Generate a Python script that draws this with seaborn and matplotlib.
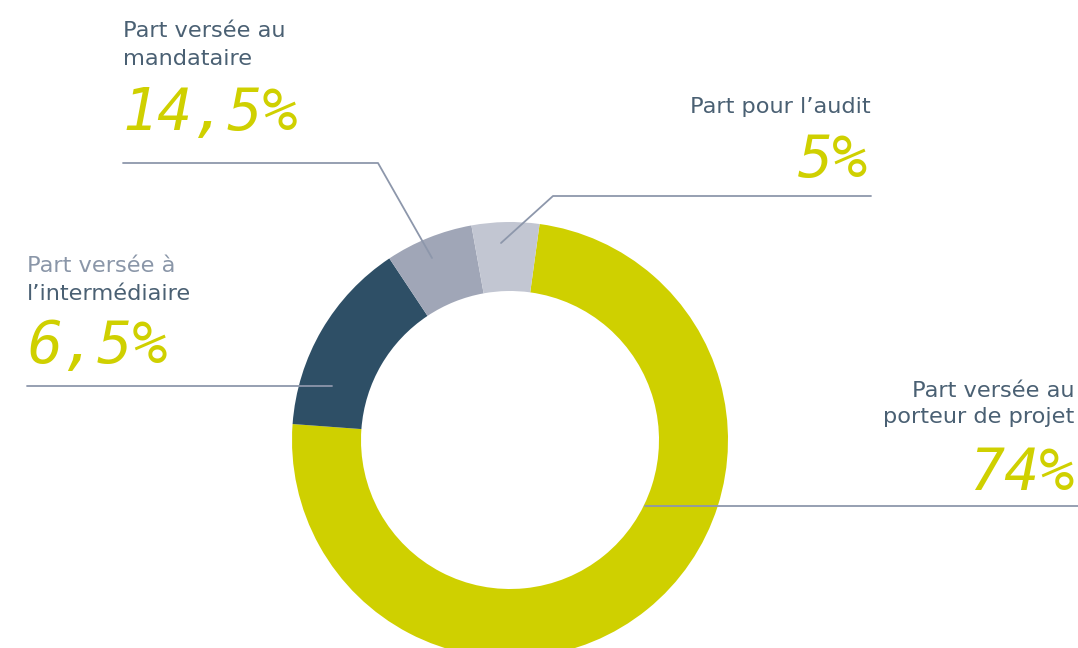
import matplotlib.pyplot as plt
import seaborn as sns

# Données du graphique (ordre horaire à partir du haut)
parts = [74, 14.5, 6.5, 5]
couleurs = ["#CFD000", "#2E4F66", "#A0A6B7", "#C2C6D2"]

# Textes tels qu'ils apparaissent sur l'image
titres = {
    "porteur": ["Part versée au", "porteur de projet"],
    "intermediaire": ["Part versée à", "l\u2019intermédiaire"],
    "mandataire": ["Part versée au", "mandataire"],
    "audit": ["Part pour l\u2019audit"],
}
pourcentages = {"porteur": "74%", "intermediaire": "6,5%", "mandataire": "14,5%", "audit": "5%"}

sns.set_theme(style="white")
plt.rcParams['font.family'] = ['DejaVu Sans']

W, H = 1078, 648
fig = plt.figure(figsize=(W / 100, H / 100), dpi=100)
ax = fig.add_axes([0, 0, 1, 1])

# Anneau
ax.pie(parts, colors=couleurs, startangle=82.2, counterclock=False,
       radius=218, center=(510, H - 440),
       wedgeprops=dict(width=218 - 149, linewidth=0))
ax.set_xlim(0, W)
ax.set_ylim(0, H)
ax.set_aspect('equal')
ax.axis('off')

c_texte = "#4A6073"
c_clair = "#8A96A8"
c_jaune = "#CFD000"
c_ligne = "#8D97AB"
fs = 16.2
fs_pct = 42


def y(p):
    return H - p


# Lignes de rappel
ax.plot([123, 378, 432], [y(163), y(163), y(258)], color=c_ligne, lw=1.3)
ax.plot([501, 553, 871], [y(243), y(196), y(196)], color=c_ligne, lw=1.3)
ax.plot([27, 332], [y(386), y(386)], color=c_ligne, lw=1.3)
ax.plot([645, 1078], [y(506), y(506)], color=c_ligne, lw=1.3)

pct_kw = dict(color=c_jaune, fontsize=fs_pct, family='DejaVu Sans Mono',
              style='italic', va='baseline')

# Mandataire
ax.text(123, y(37), titres["mandataire"][0], color=c_texte, fontsize=fs, va='baseline')
ax.text(123, y(65), titres["mandataire"][1], color=c_texte, fontsize=fs, va='baseline')
ax.text(123, y(130), pourcentages["mandataire"], ha='left', **pct_kw)

# Audit
ax.text(871, y(113), titres["audit"][0], color=c_texte, fontsize=fs, va='baseline', ha='right')
ax.text(868, y(177), pourcentages["audit"], ha='right', **pct_kw)

# Intermédiaire
ax.text(27, y(272), titres["intermediaire"][0], color=c_clair, fontsize=fs, va='baseline')
ax.text(27, y(300), titres["intermediaire"][1], color=c_texte, fontsize=fs, va='baseline')
ax.text(27, y(363), pourcentages["intermediaire"], ha='left', **pct_kw)

# Porteur de projet
ax.text(1074, y(397), titres["porteur"][0], color=c_texte, fontsize=fs, va='baseline', ha='right')
ax.text(1074, y(423), titres["porteur"][1], color=c_texte, fontsize=fs, va='baseline', ha='right')
ax.text(1074, y(490), pourcentages["porteur"], ha='right', **pct_kw)

fig.savefig("out.png", dpi=100, facecolor="white")
